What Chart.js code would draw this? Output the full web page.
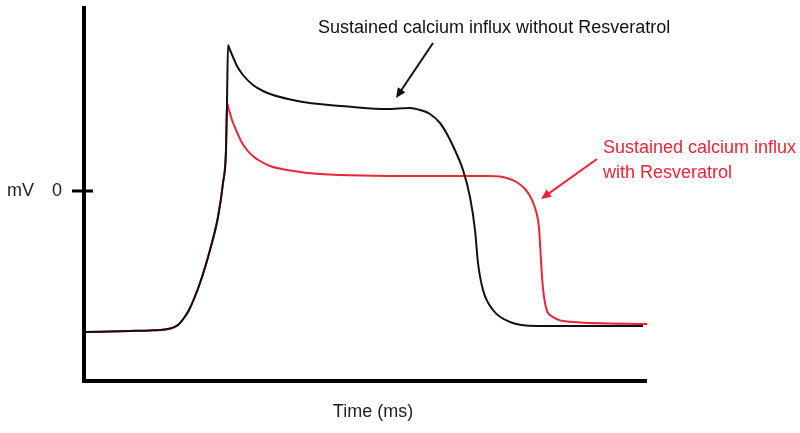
<!DOCTYPE html>
<html>
<head>
<meta charset="utf-8">
<script src="https://cdn.jsdelivr.net/npm/chart.js@4.4.0/dist/chart.umd.min.js"></script>
<style>
  html, body { margin: 0; padding: 0; background: #fff; }
  #wrap { width: 800px; height: 433px; position: relative; }
</style>
</head>
<body>
<div id="wrap"><canvas id="apChart"></canvas></div>
<script>
// time (ms) and membrane potential (mV)
const timeWithout = [4, 48, 68, 83, 90, 96, 102, 107, 118, 128, 136, 141, 144, 145, 146, 148, 151, 155, 161, 171, 181, 191, 206, 221, 271, 305, 328, 338, 348, 358, 365, 371, 381, 388, 393, 396, 401, 411, 428, 455, 561];
const mvWithout   = [-71, -70.5, -70.25, -69.75, -69, -67.5, -64, -60, -46.5, -30, -13.5, 3.5, 20, 43.5, 72.5, 70, 66.5, 62, 57.5, 52.5, 49.5, 47.5, 45.5, 44, 41.5, 40.5, 41, 40, 38, 33.5, 28, 22, 10, -3.5, -20, -36.5, -50, -60, -66, -68, -68];

const timeWith = [4, 48, 68, 83, 90, 96, 102, 107, 118, 128, 136, 141, 144, 145, 147, 150, 154, 159, 165, 172, 178, 188, 205, 238, 338, 405, 418, 428, 436, 443, 448, 452, 455, 457, 458, 460, 463, 471, 491, 565];
const mvWith   = [-71, -70.5, -70.25, -69.75, -69, -67.5, -64, -60, -46.5, -30, -13.5, 3.5, 20, 43.5, 40, 35, 30, 24.5, 20, 16.5, 14.5, 12, 10, 8, 7, 7, 6.75, 5.5, 3.5, 0.5, -3, -7.5, -12.5, -19, -26.5, -43.5, -56.5, -63.5, -66, -67];

const yTicks = [0];
const labelWithout = 'Sustained calcium influx without Resveratrol';
const labelWith = ['Sustained calcium influx', 'with Resveratrol'];

const RED = '#ec2535';
const FONT = '"Liberation Sans", Arial, sans-serif';

const toPoints = (xs, ys) => xs.map((x, i) => ({ x: x, y: ys[i] }));

function arrow(ctx, x1, y1, x2, y2, color) {
    const ang = Math.atan2(y2 - y1, x2 - x1);
    const head = 11;
    ctx.strokeStyle = color;
    ctx.fillStyle = color;
    ctx.lineWidth = 2;
    ctx.beginPath();
    ctx.moveTo(x1, y1);
    ctx.lineTo(x2 - Math.cos(ang) * head * 0.8, y2 - Math.sin(ang) * head * 0.8);
    ctx.stroke();
    ctx.beginPath();
    ctx.moveTo(x2, y2);
    ctx.lineTo(x2 - head * Math.cos(ang - 0.42), y2 - head * Math.sin(ang - 0.42));
    ctx.lineTo(x2 - head * Math.cos(ang + 0.42), y2 - head * Math.sin(ang + 0.42));
    ctx.closePath();
    ctx.fill();
}

// axes, tick, labels and arrows
const decorations = {
    id: 'decorations',
    afterDatasetsDraw(chart) {
        const { ctx, chartArea: a, scales: { x, y } } = chart;
        ctx.save();
        ctx.strokeStyle = '#000';
        ctx.lineWidth = 4;
        ctx.beginPath();
        ctx.moveTo(a.left + 2, a.top);
        ctx.lineTo(a.left + 2, a.bottom + 1);
        ctx.lineTo(a.right, a.bottom + 1);
        ctx.stroke();

        ctx.font = '18px ' + FONT;
        ctx.fillStyle = '#222';
        ctx.textBaseline = 'middle';
        yTicks.forEach(v => {
            const py = y.getPixelForValue(v) + 1;
            ctx.lineWidth = 3;
            ctx.beginPath();
            ctx.moveTo(a.left - 10, py);
            ctx.lineTo(a.left + 11, py);
            ctx.stroke();
            ctx.textAlign = 'center';
            ctx.fillText(String(v), a.left - 25, py);
        });
        ctx.textAlign = 'left';
        ctx.fillText('mV', 7, y.getPixelForValue(0) + 1);

        ctx.textAlign = 'center';
        ctx.textBaseline = 'alphabetic';
        ctx.fillText('Time (ms)', x.getPixelForValue(291), 417);

        ctx.textAlign = 'left';
        ctx.fillStyle = '#111';
        ctx.fillText(labelWithout, x.getPixelForValue(236), y.getPixelForValue(78.5));
        arrow(ctx, x.getPixelForValue(351), y.getPixelForValue(73.5), x.getPixelForValue(314), y.getPixelForValue(46), '#111');

        ctx.fillStyle = RED;
        labelWith.forEach((t, i) => {
            ctx.fillText(t, x.getPixelForValue(521), y.getPixelForValue(18.5) + i * 25);
        });
        arrow(ctx, x.getPixelForValue(515), y.getPixelForValue(15.5), x.getPixelForValue(459), y.getPixelForValue(-4.5), RED);
        ctx.restore();
    }
};

new Chart(document.getElementById('apChart'), {
    type: 'line',
    data: {
        datasets: [{
            label: 'without Resveratrol',
            data: toPoints(timeWithout, mvWithout),
            borderColor: '#111',
            borderWidth: 2,
            pointRadius: 0,
            cubicInterpolationMode: 'monotone',
            fill: false
        }, {
            label: 'with Resveratrol',
            data: toPoints(timeWith, mvWith),
            borderColor: RED,
            borderWidth: 2,
            pointRadius: 0,
            cubicInterpolationMode: 'monotone',
            fill: false
        }]
    },
    options: {
        responsive: true,
        maintainAspectRatio: false,
        animation: false,
        layout: { padding: { left: 82, right: 153, top: 6, bottom: 53 } },
        plugins: { legend: { display: false }, tooltip: { enabled: false } },
        scales: {
            x: { type: 'linear', min: 0, max: 565, display: false },
            y: { type: 'linear', min: -95, max: 92, display: false }
        }
    },
    plugins: [decorations]
});
</script>
</body>
</html>
